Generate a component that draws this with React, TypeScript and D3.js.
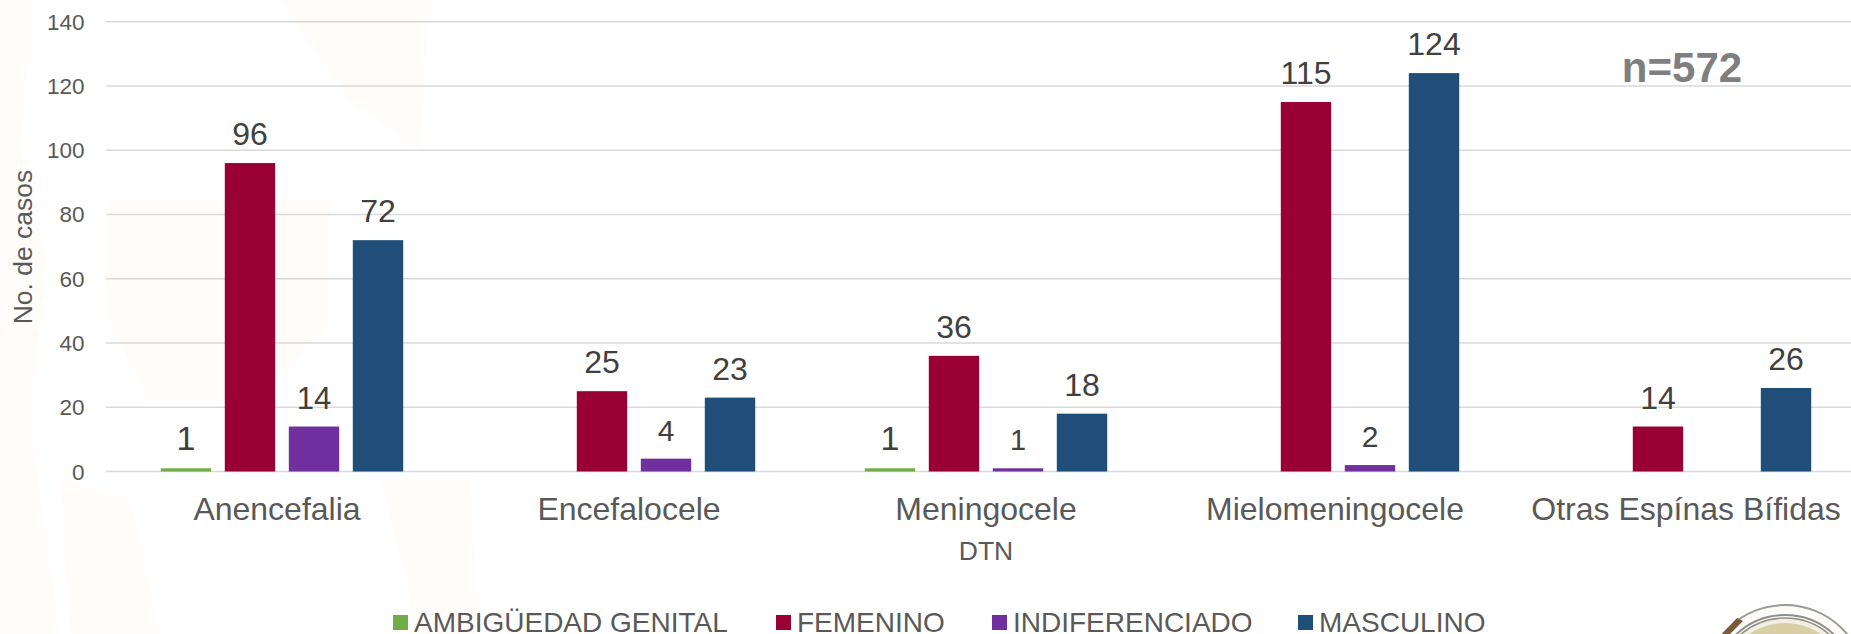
import React from "react";
import * as d3 from "d3";

const categories = ["Anencefalia", "Encefalocele", "Meningocele", "Mielomeningocele", "Otras Espínas Bífidas"];
const seriesNames = ["AMBIGÜEDAD GENITAL", "FEMENINO", "INDIFERENCIADO", "MASCULINO"];
const seriesColors = ["#70ad47", "#990033", "#7030a0", "#1f4e79"];
const ambiguedad = [1, null, 1, null, null];
const femenino = [96, 25, 36, 115, 14];
const indiferenciado = [14, 4, 1, 2, null];
const masculino = [72, 23, 18, 124, 26];
const yTicks = [0, 20, 40, 60, 80, 100, 120, 140];
const labelSizes = [
  [34, null, 34, null, null],
  [32, 32, 32, 32, 32],
  [31, 30, 29, 30, null],
  [32, 32, 32, 32, 32],
];
const allSeries = [ambiguedad, femenino, indiferenciado, masculino];
const legendX = [393, 776, 992, 1298];
const categoryNudge = [-5, -5, 0, -3, -4];

const W = 1851, H = 634;
const font = "'Liberation Sans', Arial, sans-serif";

export default function App() {
  const x0 = d3.scaleBand<string>().domain(categories).range([106, 1866]);
  const x1 = d3.scaleBand<number>().domain([0, 1, 2, 3]).range([0, x0.bandwidth()]).paddingInner(0.2125).paddingOuter(0.856);
  const y = d3.scaleLinear().domain([0, 140]).range([471.5, 21.7]);
  return (
    <svg width={W} height={H} style={{ position: "absolute", left: 0, top: 0, background: "#fff" }}>
      <g fill="#fffcfa">
        <path d="M0 0H34L20 150L46 260L30 420L60 634H0Z" />
        <path d="M108 200H330V320L260 400H150L108 320Z" />
        <path d="M60 480L130 500L160 634H70Z" />
        <path d="M280 0H430L420 150L350 100Z" />
        <path d="M380 480H470L480 634H420Z" />
      </g>
      <circle cx={1785} cy={686} r={81} fill="#fdfbf7" stroke="#9a9a96" strokeWidth={2} />
      <circle cx={1785} cy={686} r={71} fill="none" stroke="#8f8f8a" strokeWidth={2} />
      <circle cx={1785} cy={686} r={68} fill="#f2eee2" stroke="#8f8f8a" strokeWidth={1.5} />
      <circle cx={1785} cy={686} r={63} fill="#d9cfa6" />
      <path d="M1722 634L1737 618L1743 621L1730 634Z" fill="#7a5a38" />
      {yTicks.map((t) => (
        <g key={t}>
          <line x1={106} x2={W} y1={y(t)} y2={y(t)} stroke="#d9d9d9" strokeWidth={1.5} />
          <text x={84.5} y={y(t) + 8} textAnchor="end" fontFamily={font} fontSize={22.5} fill="#595959">{t}</text>
        </g>
      ))}
      {allSeries.map((vals, s) =>
        vals.map((v, c) => {
          if (v == null) return null;
          const bx = x0(categories[c])! + x1(s)!;
          return (
            <g key={`${s}-${c}`}>
              <rect x={bx} y={y(v)} width={x1.bandwidth()} height={y(0) - y(v)} fill={seriesColors[s]} />
              <text x={bx + x1.bandwidth() / 2} y={y(v) - 18} textAnchor="middle" fontFamily={font} fontSize={labelSizes[s][c]!} fill="#404040">{v}</text>
            </g>
          );
        })
      )}
      {categories.map((c, i) => (
        <text key={c} x={x0(c)! + x0.bandwidth() / 2 + categoryNudge[i]} y={520} textAnchor="middle" fontFamily={font} fontSize={32} fill="#595959">{c}</text>
      ))}
      <text x={986} y={560} textAnchor="middle" fontFamily={font} fontSize={26.5} fill="#595959">DTN</text>
      <text transform="translate(32,247) rotate(-90)" textAnchor="middle" fontFamily={font} fontSize={26.5} fill="#595959">No. de casos</text>
      <text x={1682} y={82} textAnchor="middle" fontFamily={font} fontSize={42} fontWeight="bold" fill="#7f7f7f">n=572</text>
      {seriesNames.map((n, i) => (
        <g key={n}>
          <rect x={legendX[i]} y={615} width={15} height={15} fill={seriesColors[i]} />
          <text x={legendX[i] + 21} y={631.5} fontFamily={font} fontSize={28} fill="#595959">{n}</text>
        </g>
      ))}
    </svg>
  );
}
